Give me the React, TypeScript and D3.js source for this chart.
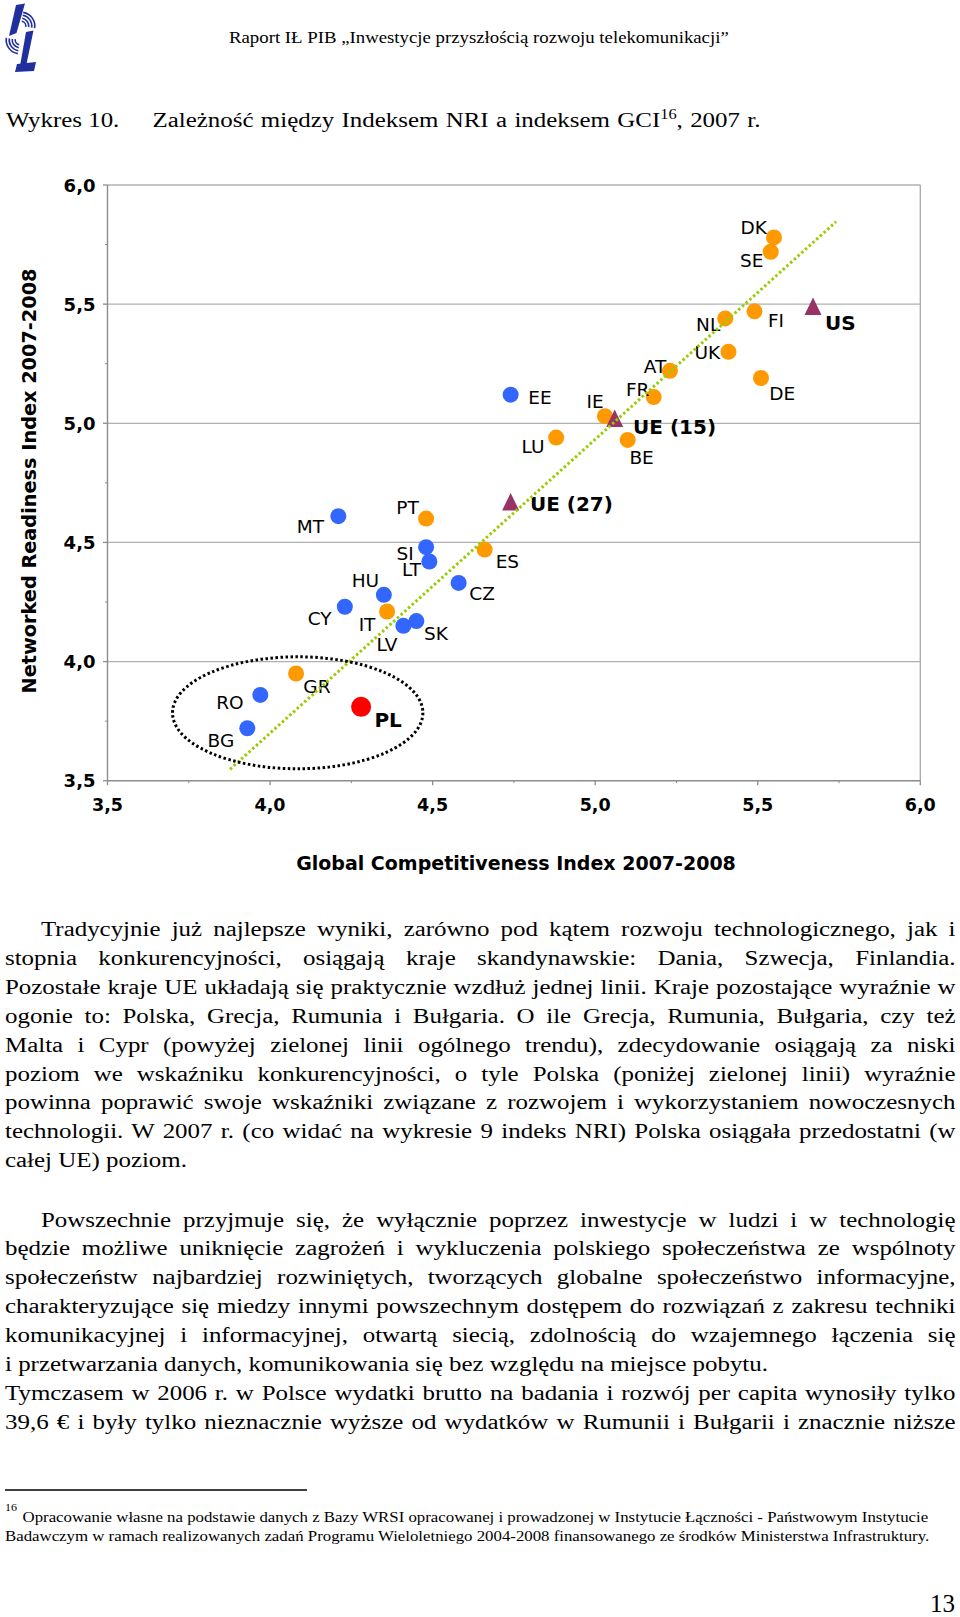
import React, { useLayoutEffect, useRef } from 'react';
import * as d3 from 'd3';

// ---------- DATA ----------
const countries = ['DK','SE','NL','FI','UK','AT','DE','FR','IE','LU','BE','ES','PT','IT','GR','EE','MT','SI','LT','HU','CY','SK','LV','CZ','RO','BG','PL','US','UE (27)','UE (15)'];
const gciValues = [5.55,5.54,5.40,5.49,5.41,5.23,5.51,5.18,5.03,4.88,5.10,4.66,4.48,4.36,4.08,4.74,4.21,4.48,4.49,4.35,4.23,4.45,4.41,4.58,3.97,3.93,4.28,5.67,4.74,5.06];
const nriValues = [5.78,5.72,5.44,5.47,5.30,5.22,5.19,5.11,5.03,4.94,4.93,4.47,4.60,4.21,3.95,5.12,4.61,4.48,4.42,4.28,4.23,4.17,4.15,4.33,3.86,3.72,3.81,5.49,4.67,5.02];
const groups = ['eu15','eu15','eu15','eu15','eu15','eu15','eu15','eu15','eu15','eu15','eu15','eu15','eu15','eu15','eu15','nms','nms','nms','nms','nms','nms','nms','nms','nms','nms','nms','pl','agg','agg','agg'];
const boldLabels = ['PL','US','UE (27)','UE (15)'];

const majorTicks = [3.5, 4.0, 4.5, 5.0, 5.5, 6.0];
const minorTicks = [3.75, 4.25, 4.75, 5.25, 5.75];
const tickLabels = ['3,5','4,0','4,5','5,0','5,5','6,0'];
const trendGci = [3.877, 5.741];
const trendNri = [3.548, 5.846];
const highlightCenter = [4.085, 3.785];
const highlightRadius = [0.385, 0.235];

// label layout (pixel offsets from the marker)
const labelDx = [-7,-7.3,-5,13.4,-8.3,-3.6,8.3,-4.3,-1.3,-11.7,1.7,11,-7.4,-11.7,7.3,17.6,-14.3,-12.4,-8.3,-4.7,-13.3,7.7,-6,10.6,-16.7,-13,13.3,12,19.3,18.4];
const labelDy = [-3,15,12.7,16,7.6,1.7,21.6,-1.3,-8,15,24.3,18.4,-5,19.7,20,9.3,16.7,12.4,15,-8,18.3,19.3,25.6,16.6,14,18.3,20,23.4,8.6,15.7];
const labelAnchor = ['end','end','end','start','end','end','start','end','end','end','start','start','end','end','start','start','end','end','end','end','end','start','end','start','end','end','start','start','start','start'];

const colors: Record<string, string> = { eu15: '#FF9900', nms: '#3366FF', pl: '#FF0000', agg: '#993366' };

const para1 = [
  'Tradycyjnie już najlepsze wyniki, zarówno pod kątem rozwoju technologicznego, jak i',
  'stopnia konkurencyjności, osiągają kraje skandynawskie: Dania, Szwecja, Finlandia.',
  'Pozostałe kraje UE układają się praktycznie wzdłuż jednej linii. Kraje pozostające wyraźnie w',
  'ogonie to: Polska, Grecja, Rumunia i Bułgaria. O ile Grecja, Rumunia, Bułgaria, czy też',
  'Malta i Cypr (powyżej zielonej linii ogólnego trendu), zdecydowanie osiągają za niski',
  'poziom we wskaźniku konkurencyjności, o tyle Polska (poniżej zielonej linii) wyraźnie',
  'powinna poprawić swoje wskaźniki związane z rozwojem i wykorzystaniem nowoczesnych',
  'technologii. W 2007 r. (co widać na wykresie 9 indeks NRI) Polska osiągała przedostatni (w',
  'całej UE) poziom.',
];
const para2 = [
  'Powszechnie przyjmuje się, że wyłącznie poprzez inwestycje w ludzi i w technologię',
  'będzie możliwe uniknięcie zagrożeń i wykluczenia polskiego społeczeństwa ze wspólnoty',
  'społeczeństw najbardziej rozwiniętych, tworzących globalne społeczeństwo informacyjne,',
  'charakteryzujące się miedzy innymi powszechnym dostępem do rozwiązań z zakresu techniki',
  'komunikacyjnej i informacyjnej, otwartą siecią, zdolnością do wzajemnego łączenia się',
  'i przetwarzania danych, komunikowania się bez względu na miejsce pobytu.',
  'Tymczasem w 2006 r. w Polsce wydatki brutto na badania i rozwój per capita wynosiły tylko',
  '39,6 € i były tylko nieznacznie wyższe od wydatków w Rumunii i Bułgarii i znacznie niższe',
];
const para1Justified = [true, true, true, true, true, true, true, true, false];
const para2Justified = [true, true, true, true, true, false, true, true];
const para1Indent = [true, false, false, false, false, false, false, false, false];
const para2Indent = [true, false, false, false, false, false, false, false];

const footnoteLines = [
  'Opracowanie własne na podstawie danych z Bazy WRSI opracowanej i prowadzonej w Instytucie Łączności - Państwowym Instytucie',
  'Badawczym w ramach realizowanych zadań Programu Wieloletniego 2004-2008 finansowanego ze środków Ministerstwa Infrastruktury.',
];

const W = 960, H = 1617;
const chartFont = '"DejaVu Sans", Verdana, sans-serif';
const serif = '"Liberation Serif", "Times New Roman", serif';
const SX = 1.17; // horizontal stretch of the page's serif text

type STProps = { x: number; y: number; size: number; w?: number; children: React.ReactNode };
function ST({ x, y, size, w, children }: STProps) {
  const extra: any = w ? { 'data-w': w / SX } : {};
  return (
    <text transform={`translate(${x},${y}) scale(${SX},1)`} fontFamily={serif} fontSize={size} fill="#000" {...extra}>
      {children}
    </text>
  );
}

// text squeezed/stretched horizontally to fill a given width exactly
function FitText({ x, y, size, w, children }: { x: number; y: number; size: number; w: number; children: React.ReactNode }) {
  return (
    <text transform={`translate(${x},${y})`} data-fit={w} data-x={x} data-y={y} fontFamily={serif} fontSize={size} fill="#000">
      {children}
    </text>
  );
}

export default function App() {
  const ref = useRef<SVGSVGElement>(null);

  useLayoutEffect(() => {
    document.body.style.margin = '0';
    const svg = d3.select(ref.current);
    svg.selectAll<SVGTextElement, unknown>('text[data-w]').each(function () {
      const target = +(this.getAttribute('data-w') || 0);
      this.setAttribute('word-spacing', '0');
      const natural = this.getComputedTextLength();
      const spaces = (this.textContent || '').split(' ').length - 1;
      if (spaces > 0) this.setAttribute('word-spacing', String((target - natural) / spaces));
    });
    svg.selectAll<SVGTextElement, unknown>('text[data-fit]').each(function () {
      const target = +(this.getAttribute('data-fit') || 0);
      const tx = +(this.getAttribute('data-x') || 0);
      const ty = +(this.getAttribute('data-y') || 0);
      const natural = this.getComputedTextLength();
      if (natural > 0) this.setAttribute('transform', `translate(${tx},${ty}) scale(${target / natural},1)`);
    });
  }, []);

  const x = d3.scaleLinear().domain([3.5, 6]).range([107.5, 920.3]);
  const y = d3.scaleLinear().domain([3.5, 6]).range([780.7, 185]);
  const trendLine = d3.line<number>().x((d) => x(trendGci[d])).y((d) => y(trendNri[d]));

  const triPath = (cx: number, cy: number) => `M${cx},${cy - 9}L${cx + 8.5},${cy + 8.5}L${cx - 8.5},${cy + 8.5}Z`;

  const leftX = 5, rightX = 955.5, indentX = 41;
  const p1Base = 936, p2Base = 1226.5, lineStep = 28.9;

  return (
    <svg ref={ref} width={W} height={H} viewBox={`0 0 ${W} ${H}`} style={{ display: 'block', background: '#fff' }}>
      <rect x={0} y={0} width={W} height={H} fill="#fff" />

      {/* logo */}
      <g fill="#1f2f9e" stroke="none">
        <polygon points="16,5 25,3.5 16.5,33 9,36" />
        <polygon points="26,32 33.5,30.5 26.5,64 20,66" />
        <polygon points="17,64 36,62 34,71 15,72" />
        {[4, 7, 10, 13].map((r) => (
          <path key={'a' + r} d={d3.arc()({ innerRadius: r, outerRadius: r + 1.6, startAngle: -Math.PI * 0.95, endAngle: -Math.PI * 0.45 }) || ''} transform="translate(20,40)" />
        ))}
        {[4, 7, 10, 13].map((r) => (
          <path key={'b' + r} d={d3.arc()({ innerRadius: r, outerRadius: r + 1.6, startAngle: Math.PI * 0.05, endAngle: Math.PI * 0.55 }) || ''} transform="translate(21,26)" />
        ))}
      </g>

      {/* header */}
      <FitText x={229} y={43} size={16.6} w={500}>Raport IŁ PIB „Inwestycje przyszłością rozwoju telekomunikacji”</FitText>

      {/* title */}
      <ST x={6} y={127} size={21.3}>Wykres 10.</ST>
      <ST x={152.5} y={127} size={21.3} w={608}>
        <tspan>Zależność między Indeksem NRI a indeksem GCI</tspan>
        <tspan fontSize={14} dy={-8}>16</tspan>
        <tspan dy={8}>, 2007 r.</tspan>
      </ST>

      {/* chart frame + grid */}
      <g>
        {majorTicks.slice(1).map((t) => (
          <line key={'g' + t} x1={x(3.5)} x2={x(6)} y1={y(t)} y2={y(t)} stroke="#b0b0b0" strokeWidth={1.3} />
        ))}
        <line x1={x(6)} x2={x(6)} y1={y(3.5)} y2={y(6)} stroke="#a8a8a8" strokeWidth={1.3} />
        <line x1={x(3.5)} x2={x(3.5)} y1={y(3.5)} y2={y(6)} stroke="#8c8c8c" strokeWidth={1.4} />
        <line x1={x(3.5)} x2={x(6)} y1={y(3.5)} y2={y(3.5)} stroke="#8c8c8c" strokeWidth={1.4} />
        {majorTicks.map((t) => (
          <line key={'yt' + t} x1={x(3.5) - 4.5} x2={x(3.5)} y1={y(t)} y2={y(t)} stroke="#8c8c8c" strokeWidth={1.3} />
        ))}
        {minorTicks.map((t) => (
          <line key={'ym' + t} x1={x(3.5) - 2.5} x2={x(3.5)} y1={y(t)} y2={y(t)} stroke="#8c8c8c" strokeWidth={1} />
        ))}
        {majorTicks.map((t) => (
          <line key={'xt' + t} x1={x(t)} x2={x(t)} y1={y(3.5)} y2={y(3.5) + 4.5} stroke="#8c8c8c" strokeWidth={1.3} />
        ))}
        {minorTicks.map((t) => (
          <line key={'xm' + t} x1={x(t)} x2={x(t)} y1={y(3.5)} y2={y(3.5) + 2.5} stroke="#8c8c8c" strokeWidth={1} />
        ))}
        {majorTicks.map((t, i) => (
          <text key={'yl' + t} x={95.5} y={y(t) + 6.5} textAnchor="end" fontFamily={chartFont} fontWeight="bold" fontSize={18} fill="#000">{tickLabels[i]}</text>
        ))}
        {majorTicks.map((t, i) => (
          <text key={'xl' + t} x={x(t)} y={811} textAnchor="middle" fontFamily={chartFont} fontWeight="bold" fontSize={17.5} fill="#000">{tickLabels[i]}</text>
        ))}
        <text transform="translate(36,481) rotate(-90)" textAnchor="middle" fontFamily={chartFont} fontWeight="bold" fontSize={19.3} fill="#000">
          Networked Readiness Index 2007-2008
        </text>
        <text x={516} y={870} textAnchor="middle" fontFamily={chartFont} fontWeight="bold" fontSize={19} fill="#000">
          Global Competitiveness Index 2007-2008
        </text>
      </g>

      {/* markers */}
      <g>
        {countries.map((c, i) => {
          const cx = x(gciValues[i]);
          const cy = y(nriValues[i]);
          const g = groups[i];
          if (g === 'agg') return <path key={c} d={triPath(cx, cy)} fill={colors.agg} />;
          return <circle key={c} cx={cx} cy={cy} r={g === 'pl' ? 10 : 8} fill={colors[g]} />;
        })}
      </g>

      {/* labels */}
      <g>
        {countries.map((c, i) => {
          const bold = boldLabels.includes(c);
          return (
            <text
              key={'l' + c}
              x={x(gciValues[i]) + labelDx[i]}
              y={y(nriValues[i]) + labelDy[i]}
              textAnchor={labelAnchor[i] as any}
              fontFamily={chartFont}
              fontSize={bold ? 20 : 18.5}
              fontWeight={bold ? 'bold' : 'normal'}
              fill="#000"
            >
              {c}
            </text>
          );
        })}
      </g>

      {/* trend line and highlight ellipse */}
      <path d={trendLine([0, 1]) || ''} fill="none" stroke="#99CC00" strokeWidth={3} strokeDasharray="2.5 2.5" />
      <ellipse
        cx={x(highlightCenter[0])}
        cy={y(highlightCenter[1])}
        rx={x(highlightCenter[0] + highlightRadius[0]) - x(highlightCenter[0])}
        ry={y(highlightCenter[1]) - y(highlightCenter[1] + highlightRadius[1])}
        fill="none"
        stroke="#000"
        strokeWidth={3}
        strokeDasharray="2.5 2.5"
      />

      {/* body text */}
      <g>
        {para1.map((line, i) => (
          <ST key={'p1' + i} x={para1Indent[i] ? indentX : leftX} y={p1Base + i * lineStep} size={21.3}
            w={para1Justified[i] ? rightX - (para1Indent[i] ? indentX : leftX) : undefined}>
            {line}
          </ST>
        ))}
        {para2.map((line, i) => (
          <ST key={'p2' + i} x={para2Indent[i] ? indentX : leftX} y={p2Base + i * lineStep} size={21.3}
            w={para2Justified[i] ? rightX - (para2Indent[i] ? indentX : leftX) : undefined}>
            {line}
          </ST>
        ))}
      </g>

      {/* footnote */}
      <line x1={5} x2={307} y1={1490} y2={1490} stroke="#000" strokeWidth={1.3} />
      <FitText x={5} y={1511} size={10.5} w={12}>16</FitText>
      <FitText x={22.5} y={1522} size={15.3} w={906}>{footnoteLines[0]}</FitText>
      <FitText x={5} y={1541} size={15.3} w={925}>{footnoteLines[1]}</FitText>

      {/* page number */}
      <text x={955} y={1612} textAnchor="end" fontFamily={serif} fontSize={25} fill="#000">13</text>
    </svg>
  );
}
